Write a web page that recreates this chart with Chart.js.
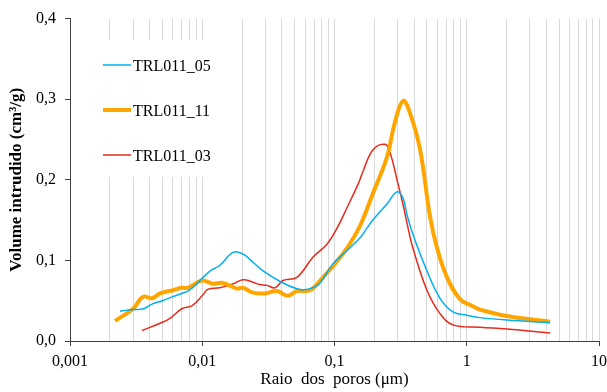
<!DOCTYPE html>
<html>
<head>
<meta charset="utf-8">
<script src="https://cdn.jsdelivr.net/npm/chart.js@4/dist/chart.umd.min.js"></script>
<style>
  html, body { margin: 0; padding: 0; background: #fff; }
  #wrap { width: 607px; height: 392px; }
</style>
</head>
<body>
<div id="wrap"><canvas id="poros"></canvas></div>
<script>
// pore radius (µm) and intruded volume (cm3/g)
var rad05 = [0.00239, 0.0030, 0.0036, 0.0042, 0.0050, 0.0060, 0.0070, 0.0080, 0.0100, 0.0115, 0.0136, 0.0171, 0.0203, 0.0230, 0.0288, 0.0408, 0.0548, 0.0653, 0.0777, 0.0975, 0.124, 0.156, 0.176, 0.195, 0.249, 0.297, 0.330, 0.353, 0.392, 0.50, 0.628, 0.787, 1.0, 1.26, 2.01, 4.27];
var vol05 = [0.037, 0.039, 0.040, 0.046, 0.050, 0.055, 0.059, 0.063, 0.078, 0.087, 0.094, 0.110, 0.108, 0.101, 0.087, 0.072, 0.064, 0.065, 0.072, 0.096, 0.112, 0.128, 0.140, 0.150, 0.170, 0.185, 0.177, 0.157, 0.132, 0.087, 0.053, 0.036, 0.032, 0.029, 0.026, 0.023];

var rad11 = [0.00219, 0.0030, 0.00357, 0.00417, 0.0048, 0.0060, 0.0070, 0.0078, 0.0100, 0.0120, 0.0143, 0.0183, 0.0203, 0.0242, 0.0298, 0.0367, 0.0445, 0.0520, 0.0653, 0.0818, 0.0975, 0.124, 0.156, 0.195, 0.249, 0.286, 0.330, 0.372, 0.443, 0.527, 0.595, 0.709, 0.889, 1.114, 1.26, 2.01, 4.27];
var vol11 = [0.025, 0.040, 0.055, 0.053, 0.059, 0.063, 0.066, 0.066, 0.075, 0.071, 0.072, 0.065, 0.066, 0.060, 0.059, 0.062, 0.056, 0.062, 0.063, 0.079, 0.093, 0.115, 0.143, 0.183, 0.228, 0.271, 0.298, 0.283, 0.238, 0.155, 0.116, 0.079, 0.052, 0.043, 0.039, 0.031, 0.024];

var rad03 = [0.0035, 0.0048, 0.0057, 0.0070, 0.0084, 0.0101, 0.0110, 0.0136, 0.0171, 0.0203, 0.0242, 0.0272, 0.0309, 0.0355, 0.0408, 0.0520, 0.0687, 0.0877, 0.1045, 0.124, 0.151, 0.164, 0.195, 0.241, 0.263, 0.297, 0.330, 0.360, 0.392, 0.50, 0.628, 0.787, 1.26, 2.01, 4.27];
var vol03 = [0.013, 0.022, 0.028, 0.040, 0.044, 0.057, 0.064, 0.066, 0.071, 0.076, 0.073, 0.070, 0.069, 0.066, 0.075, 0.079, 0.104, 0.120, 0.140, 0.165, 0.195, 0.210, 0.237, 0.244, 0.234, 0.200, 0.169, 0.140, 0.115, 0.063, 0.034, 0.020, 0.017, 0.015, 0.010];

var seriesNames = ['TRL011_05', 'TRL011_11', 'TRL011_03'];
var xTickValues = [0.001, 0.01, 0.1, 1, 10];
var xTickLabels = ['0,001', '0,01', '0,1', '1', '10'];

function pairs(xs, ys) {
    return xs.map(function(v, i) { return { x: v, y: ys[i] }; });
}

// every 1..9 multiple gets a grid line, only decades get a label
var gridValues = [];
for (var e = -3; e < 1; e++) {
    for (var m = 1; m < 10; m++) gridValues.push(+(m * Math.pow(10, e)).toPrecision(3));
}
gridValues.push(10);

function isDecade(v) {
    return xTickValues.some(function(d) { return Math.abs(d - v) < d * 1e-6; });
}

Chart.defaults.font.family = "'Liberation Serif', 'Times New Roman', serif";
Chart.defaults.font.size = 16;
Chart.defaults.color = '#000';

// legend box sitting over the grid lines, like the Excel one
var boxLegend = {
    id: 'boxLegend',
    beforeDatasetsDraw: function(chart) {
        var ctx = chart.ctx;
        ctx.save();
        ctx.fillStyle = '#fff';
        ctx.fillRect(71, 40, 135, 137);
        var rows = [65, 110, 155];
        chart.data.datasets.forEach(function(ds, i) {
            ctx.strokeStyle = ds.borderColor;
            ctx.lineWidth = ds.borderWidth;
            ctx.beginPath();
            ctx.moveTo(103, rows[i]);
            ctx.lineTo(131, rows[i]);
            ctx.stroke();
            ctx.fillStyle = '#000';
            ctx.font = "16px 'Liberation Serif', serif";
            ctx.textBaseline = 'middle';
            ctx.textAlign = 'left';
            ctx.fillText(ds.label, 133, rows[i] + 2);
        });
        ctx.restore();
    }
};

var ctx = document.getElementById('poros').getContext('2d');

new Chart(ctx, {
    type: 'line',
    data: {
        datasets: [{
            label: seriesNames[0],
            data: pairs(rad05, vol05),
            borderColor: '#00B0F0',
            borderWidth: 1.5
        }, {
            label: seriesNames[1],
            data: pairs(rad11, vol11),
            borderColor: '#FFA500',
            borderWidth: 4
        }, {
            label: seriesNames[2],
            data: pairs(rad03, vol03),
            borderColor: '#E8291C',
            borderWidth: 1.5
        }]
    },
    options: {
        responsive: true,
        maintainAspectRatio: false,
        animation: false,
        layout: { padding: { top: 15, right: 8, bottom: 0, left: 0 } },
        elements: {
            point: { radius: 0 },
            line: { tension: 0.4, fill: false }
        },
        plugins: {
            legend: { display: false },
            tooltip: { enabled: false }
        },
        scales: {
            x: {
                type: 'logarithmic',
                min: 0.001,
                max: 10,
                afterBuildTicks: function(scale) {
                    scale.ticks = gridValues.map(function(v) { return { value: v }; });
                },
                afterFit: function(scale) {
                    scale.height = 51;
                    scale.paddingRight = 0;
                    scale.paddingLeft = 0;
                },
                ticks: {
                    autoSkip: false,
                    maxRotation: 0,
                    padding: 6,
                    callback: function(value) {
                        var k = xTickValues.findIndex(function(d) { return Math.abs(d - value) < d * 1e-6; });
                        return k >= 0 ? xTickLabels[k] : '';
                    }
                },
                grid: {
                    color: '#D9D9D9',
                    lineWidth: 1,
                    tickLength: 5,
                    tickColor: function(c) {
                        return c.tick && isDecade(c.tick.value) ? '#404040' : 'rgba(0,0,0,0)';
                    }
                },
                border: { color: '#404040', width: 1 },
                title: {
                    display: true,
                    text: 'Raio  dos  poros (μm)',
                    font: { size: 17 },
                    padding: { top: 0, bottom: 2 }
                }
            },
            y: {
                min: 0,
                max: 0.4,
                afterFit: function(scale) { scale.width = 70; },
                ticks: {
                    stepSize: 0.1,
                    padding: 9,
                    callback: function(value) {
                        return value.toFixed(1).replace('.', ',');
                    }
                },
                grid: {
                    drawOnChartArea: false,
                    tickLength: 5,
                    tickColor: '#404040'
                },
                border: { color: '#404040', width: 1 },
                title: {
                    display: true,
                    text: 'Volume intrudido (cm³/g)',
                    font: { weight: 'bold', size: 17 },
                    padding: { top: 6, bottom: 0 }
                }
            }
        }
    },
    plugins: [boxLegend]
});
</script>
</body>
</html>
